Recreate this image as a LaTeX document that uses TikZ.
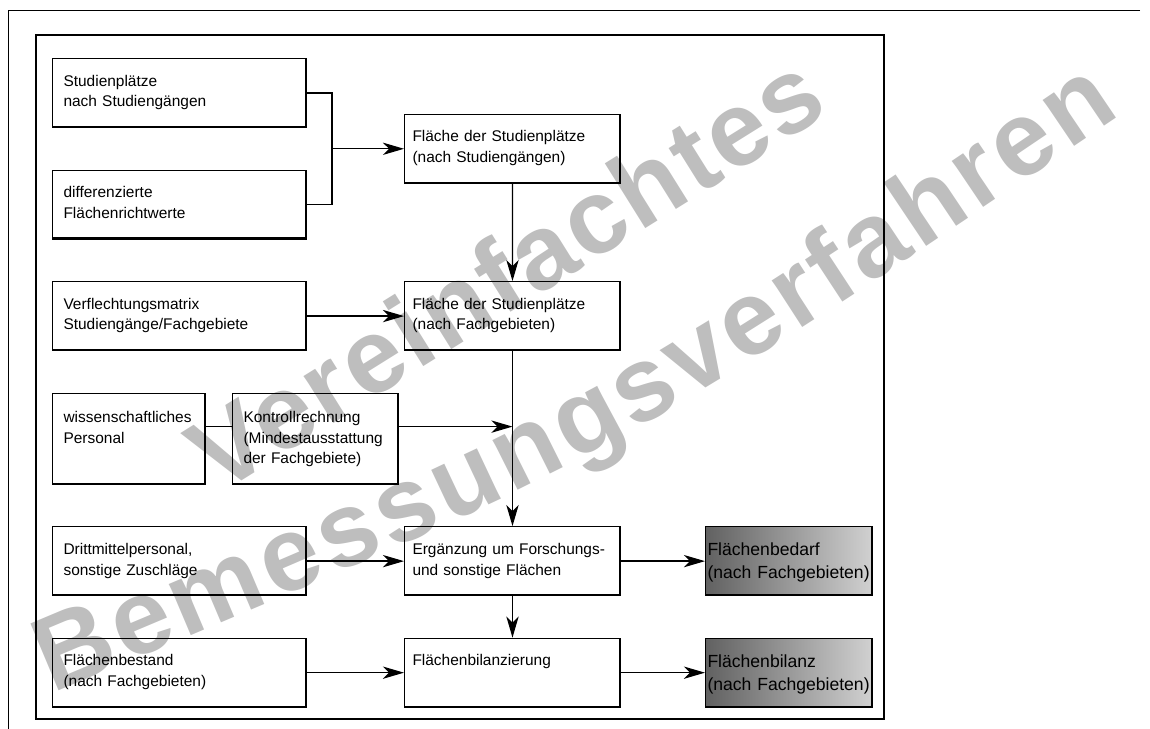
\documentclass[tikz,border=0pt]{standalone}
\usepackage{fontspec}
\setmainfont{Liberation Sans}
\newfontfamily\wmfont{Liberation Sans}[LetterSpace=3]
\usepackage{tikz}
\usetikzlibrary{arrows.meta,positioning,calc,decorations.text}
\definecolor{wmgray}{RGB}{190,190,190}
\tikzset{
  blk/.style={draw,line width=0.6pt,inner xsep=0.22cm,inner ysep=0pt,align=left,
              font=\fontsize{8.8}{11.9}\selectfont,
              text width=4.64cm,text height=0.55cm,text depth=0.83cm,
              path picture={\draw[line width=1.8pt]
                (path picture bounding box.south west)--(path picture bounding box.south east)
                --(path picture bounding box.north east);}},
  midblk/.style={blk,inner xsep=0.16cm,text width=4.0cm},
  tallblk/.style={blk,text height=0.58cm,text depth=1.24cm},
  resblk/.style={blk,inner xsep=0.04cm,text width=3.26cm,text height=0.58cm,text depth=0.8cm,
                 left color=black!62,right color=black!18,
                 font=\fontsize{10}{13}\selectfont},
  arr/.style={-{Stealth[length=12pt,width=7pt,inset=3.5pt]},line width=0.75pt},
  ln/.style={line width=0.75pt},
  wmark/.style={text=wmgray,font=\fontsize{60}{60}\selectfont\wmfont\bfseries},
}
\begin{document}
\begin{tikzpicture}[x=0.02cm,y=-0.02cm,node distance=0.83cm and 1.94cm]
  \useasboundingbox (0,0) rectangle (1150,729);
  % Wasserzeichen
  \node[wmark,rotate=32] (wm1) at (505,272) {Vereinfachtes};
  \path[decorate,decoration={text along path,text align={fit to path},text color=wmgray,
        text={|\fontsize{60}{60}\selectfont\bfseries|Bemessungsverfahren}}]
    (52,694) .. controls (616,457) .. (1121,115);
  % Rahmen
  \draw[line width=0.5pt] (1140,10) -- (8,10) -- (8,729);
  \draw[line width=0.6pt] (36,35) rectangle (884,719);
  % Eingangsgroessen
  \node[blk,anchor=north west] (sp) at (52,58) {Studienplätze\\nach Studiengängen};
  \node[blk,below=of sp] (rw) {differenzierte\\Flächenrichtwerte};
  \node[blk,below=of rw] (vm) {Verflechtungsmatrix\\Studiengänge/Fachgebiete};
  \node[tallblk,text width=2.62cm,below=of vm.south west,anchor=north west] (wp) {wissenschaftliches\\Personal};
  \node[blk,below=of wp.south west,anchor=north west] (dz) {Drittmittelpersonal,\\sonstige Zuschläge};
  \node[blk,below=of dz] (fbs) {Flächenbestand\\(nach Fachgebieten)};
  \node[tallblk,text width=2.88cm,right=0.52cm of wp] (kr) {Kontrollrechnung\\(Mindestausstattung\\der Fachgebiete)};
  % Rechenschritte
  \coordinate (mj) at ($(sp.east)!0.5!(rw.east)$);
  \coordinate[right=0.5cm of mj] (jn);
  \node[midblk,right=1.44cm of jn] (fs) {Fläche der Studienplätze\\(nach Studiengängen)};
  \node[midblk,right=of vm] (ff) {Fläche der Studienplätze\\(nach Fachgebieten)};
  \node[midblk,right=of dz] (eg) {Ergänzung um Forschungs-\\und sonstige Flächen};
  \node[midblk,right=of fbs] (bil) {Flächenbilanzierung};
  % Ergebnisse
  \node[resblk,right=1.68cm of eg] (bed) {Flächenbedarf\\(nach Fachgebieten)};
  \node[resblk,right=1.68cm of bil] (bz) {Flächenbilanz\\(nach Fachgebieten)};
  % Verbindungen
  \draw[ln] (sp.east) -| (jn) |- (rw.east);
  \draw[arr] (jn) -- (fs.west);
  \draw[arr] (fs) -- (ff);
  \draw[arr] (vm) -- (ff);
  \draw[ln] ([yshift=0.24cm]wp.east) -- ([yshift=0.24cm]wp.east -| kr.west);
  \draw[arr] ([yshift=0.24cm]kr.east) -- ([yshift=0.24cm]kr.east -| ff.south);
  \draw[arr] (ff) -- (eg);
  \draw[arr] (dz) -- (eg);
  \draw[arr] (eg) -- (bil);
  \draw[arr] (fbs) -- (bil);
  \draw[arr] (eg) -- (bed);
  \draw[arr] (bil) -- (bz);
\end{tikzpicture}
\end{document}
